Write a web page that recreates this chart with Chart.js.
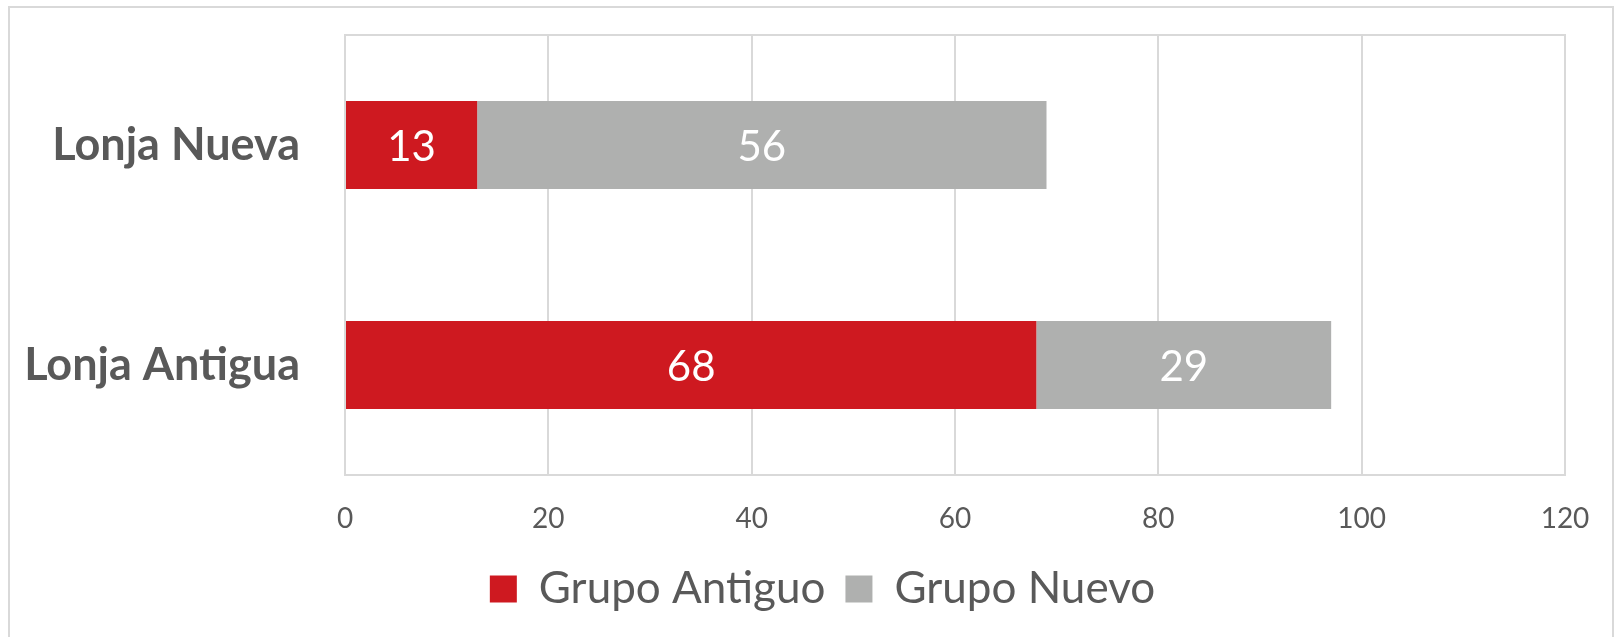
<!DOCTYPE html>
<html>
<head>
<meta charset="utf-8">
<script src="https://cdn.jsdelivr.net/npm/chart.js@4/dist/chart.umd.min.js"></script>
<style>
  html, body { margin: 0; padding: 0; background: #fff; }
  #wrap { position: relative; width: 1617px; height: 637px; overflow: hidden; }
  #frame { position: absolute; left: 8px; top: 6px; width: 1606px; height: 700px; border: 2px solid #d9d9d9; box-sizing: border-box; }
  canvas { position: absolute; left: 0; top: 0; }
</style>
</head>
<body>
<div id="wrap">
  <div id="frame"></div>
  <canvas id="chart" width="1617" height="637"></canvas>
</div>
<script>
// Values
const categories = ['Lonja Nueva', 'Lonja Antigua'];
const grupoAntiguo = [13, 68];
const grupoNuevo = [56, 29];
const xTicks = [0, 20, 40, 60, 80, 100, 120];

const textColor = '#595959';
const gridColor = '#d9d9d9';

// Draws the value inside each bar segment
const barValues = {
  id: 'barValues',
  afterDatasetsDraw(chart) {
    const ctx = chart.ctx;
    ctx.save();
    ctx.fillStyle = '#ffffff';
    ctx.font = '42px Lato';
    ctx.textAlign = 'center';
    ctx.textBaseline = 'middle';
    chart.data.datasets.forEach((ds, i) => {
      chart.getDatasetMeta(i).data.forEach((bar, j) => {
        const cx = (bar.x + bar.base) / 2;
        ctx.fillText(String(ds.data[j]), cx, bar.y + 2);
      });
    });
    ctx.restore();
  }
};

// Box round the plot area
const plotBorder = {
  id: 'plotBorder',
  beforeDatasetsDraw(chart) {
    const a = chart.chartArea;
    const ctx = chart.ctx;
    ctx.save();
    ctx.strokeStyle = gridColor;
    ctx.lineWidth = 2;
    ctx.strokeRect(a.left, a.top, a.right - a.left, a.bottom - a.top);
    ctx.restore();
  }
};

// Legend is centred on the whole picture, not on the padded area
const legendShift = {
  id: 'legendShift',
  afterLayout(chart) {
    chart.legend.left += 40;
    chart.legend.right += 40;
  }
};

const ctx = document.getElementById('chart').getContext('2d');
new Chart(ctx, {
  type: 'bar',
  data: {
    labels: categories,
    datasets: [
      {
        label: 'Grupo Antiguo',
        data: grupoAntiguo,
        backgroundColor: '#ce1920',
        categoryPercentage: 0.4,
        barPercentage: 1
      },
      {
        label: 'Grupo Nuevo',
        data: grupoNuevo,
        backgroundColor: '#afb0af',
        categoryPercentage: 0.4,
        barPercentage: 1
      }
    ]
  },
  options: {
    indexAxis: 'y',
    responsive: false,
    animation: false,
    layout: { padding: { left: 0, right: 52, top: 35, bottom: 16 } },
    scales: {
      x: {
        stacked: true,
        min: 0,
        max: 120,
        afterBuildTicks(scale) {
          scale.ticks = xTicks.map(v => ({ value: v }));
        },
        grid: { color: gridColor, lineWidth: 2, drawTicks: false },
        border: { display: false },
        ticks: {
          color: textColor,
          font: { family: 'Lato', size: 28 },
          padding: 27
        },
        afterFit(scale) { scale.height = 72; }
      },
      y: {
        stacked: true,
        grid: { display: false },
        border: { display: false },
        ticks: {
          color: textColor,
          font: { family: 'Lato', size: 45, weight: 'bold' },
          padding: 37
        },
        afterFit(scale) {
          scale.width = 345;
          // labels sit between the bars, no extra room needed above or below
          scale.paddingTop = 0;
          scale.paddingBottom = 0;
        }
      }
    },
    plugins: {
      legend: {
        position: 'bottom',
        labels: {
          color: textColor,
          font: { family: 'Lato', size: 44 },
          boxWidth: 27,
          boxHeight: 27,
          padding: 20
        }
      },
      tooltip: { enabled: false }
    }
  },
  plugins: [barValues, plotBorder, legendShift]
});
</script>
</body>
</html>
